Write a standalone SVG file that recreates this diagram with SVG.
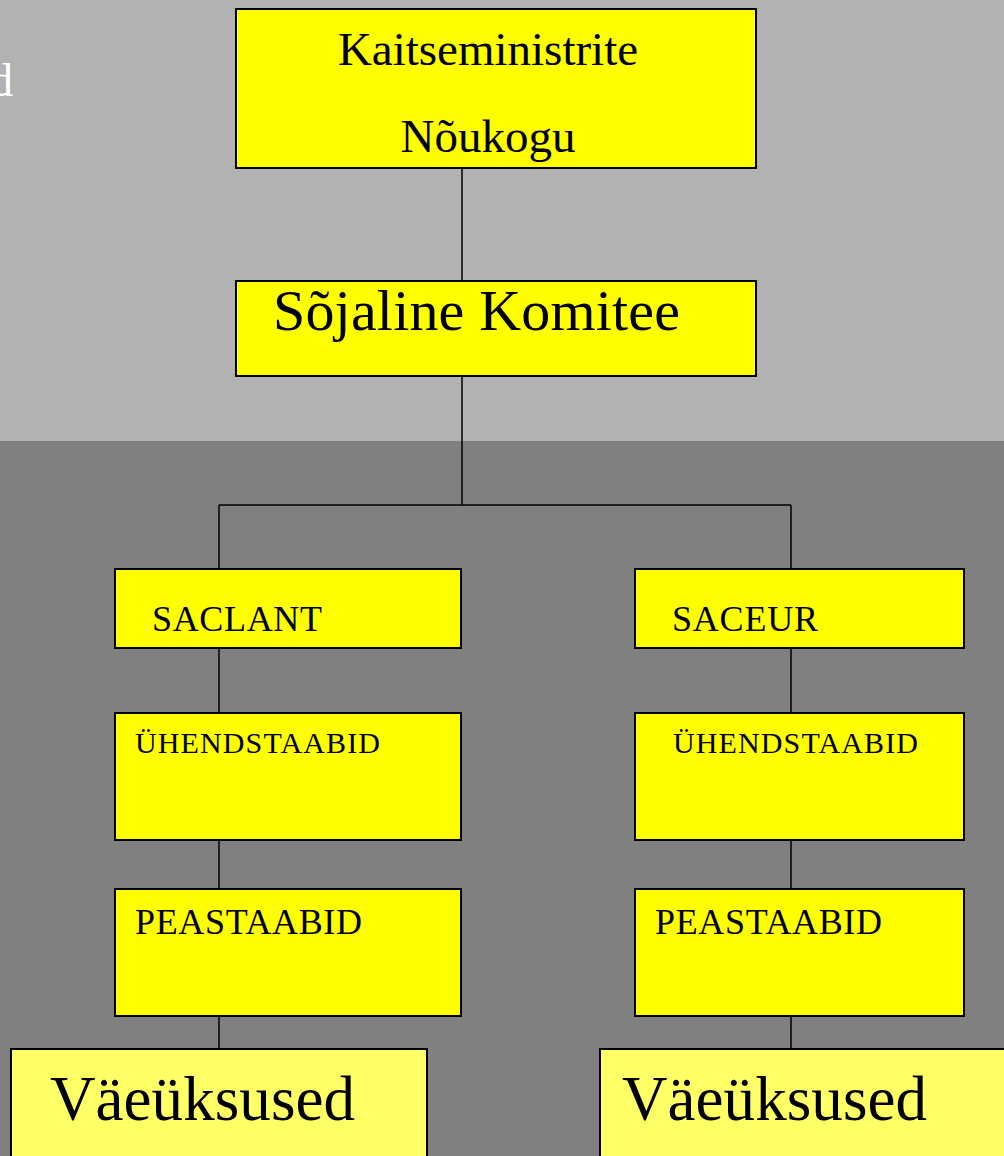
<svg xmlns="http://www.w3.org/2000/svg" width="1004" height="1156" viewBox="0 0 1004 1156">
<style>
.box{fill:#ffff00;stroke:#000;stroke-width:2}
.box2{fill:#ffff66;stroke:#000;stroke-width:2}
.t{font-family:"Liberation Serif","Times New Roman",serif;fill:#000}
.ln{stroke:#000;stroke-width:1.5;fill:none}
</style>
<rect x="0" y="0" width="1004" height="441" fill="#b2b2b2"/>
<rect x="0" y="441" width="1004" height="715" fill="#808080"/>
<text x="13" y="96" text-anchor="end" class="t" style="fill:#fff;font-size:46px">d</text>
<g id="connectors">
<path class="ln" d="M462,168V281M462,376V505M219,505H791M219,505V569M791,505V569M219,648V713M791,648V713M219,840V889M791,840V889M219,1016V1049M791,1016V1049"/>
</g>
<g id="n1"><rect class="box" x="236" y="9" width="520" height="159"/><text class="t" x="488" y="65" text-anchor="middle" font-size="47">Kaitseministrite</text><text class="t" x="488" y="152" text-anchor="middle" font-size="47">Nõukogu</text></g>
<g id="n2"><rect class="box" x="236" y="281" width="520" height="95"/><text class="t" x="273" y="330" font-size="58" textLength="407">Sõjaline Komitee</text></g>
<g id="n3"><rect class="box" x="115" y="569" width="346" height="79"/><text class="t" x="152" y="631" font-size="36" textLength="170">SACLANT</text></g>
<g id="n4"><rect class="box" x="635" y="569" width="329" height="79"/><text class="t" x="672" y="631" font-size="36" textLength="146">SACEUR</text></g>
<g id="n5"><rect class="box" x="115" y="713" width="346" height="127"/><text class="t" x="135" y="753" font-size="30" textLength="245">ÜHENDSTAABID</text></g>
<g id="n6"><rect class="box" x="635" y="713" width="329" height="127"/><text class="t" x="673" y="753" font-size="30" textLength="245">ÜHENDSTAABID</text></g>
<g id="n7"><rect class="box" x="115" y="889" width="346" height="127"/><text class="t" x="135" y="934" font-size="36" textLength="227">PEASTAABID</text></g>
<g id="n8"><rect class="box" x="635" y="889" width="329" height="127"/><text class="t" x="655" y="934" font-size="36" textLength="227">PEASTAABID</text></g>
<g id="n9"><rect class="box2" x="11" y="1049" width="416" height="120"/><text class="t" x="50" y="1120" font-size="63" textLength="305">Väeüksused</text></g>
<g id="n10"><rect class="box2" x="600" y="1049" width="420" height="120"/><text class="t" x="622" y="1120" font-size="63" textLength="305">Väeüksused</text></g>
</svg>
